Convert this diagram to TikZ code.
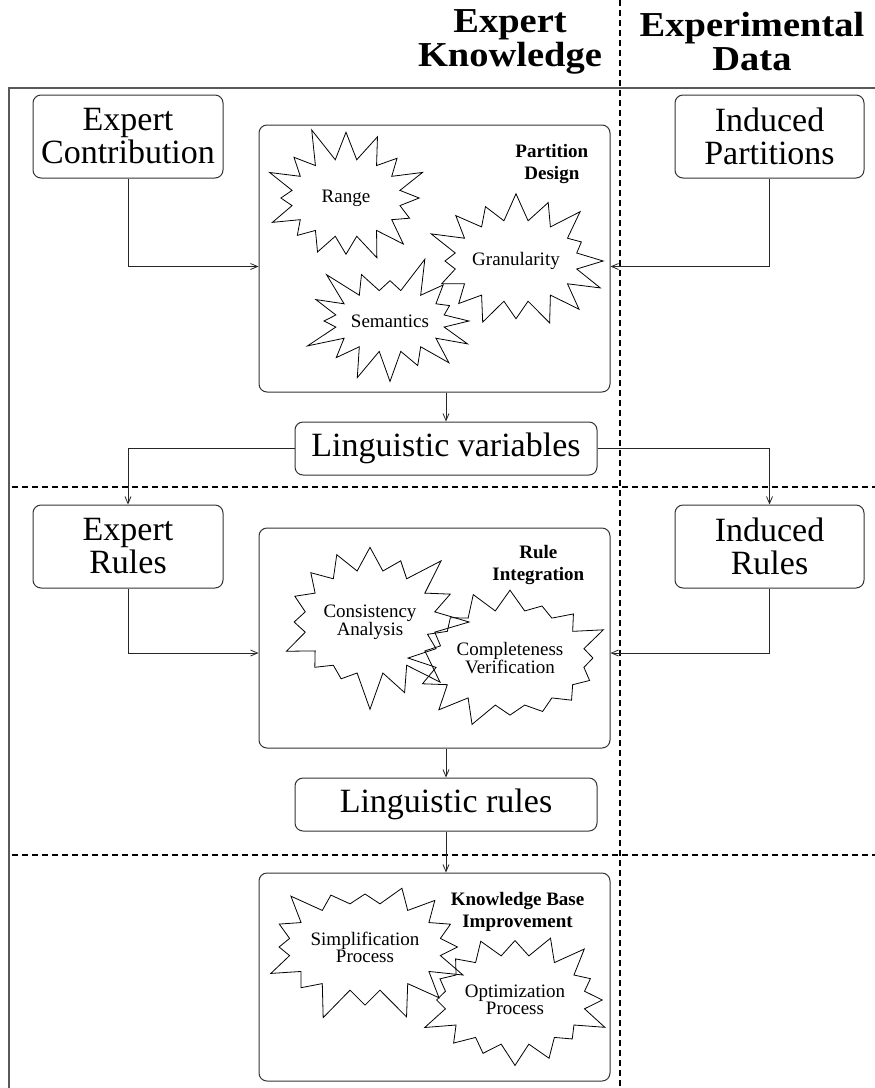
\documentclass[tikz,border=0pt]{standalone}
\usepackage{fontspec}
\setmainfont{Liberation Serif}
\usetikzlibrary{arrows.meta,positioning,shapes.symbols}
\tikzset{
  box/.style={draw=black!80, line width=1pt, rounded corners=8pt, align=center, inner sep=0pt, font=\fontsize{34}{33}\selectfont},
  stage/.style={draw=black!80, line width=1pt, rounded corners=8pt, inner sep=0pt},
  stagetitle/.style={align=center, inner sep=0pt, font=\fontsize{19}{22}\selectfont\bfseries},
  burst/.style={starburst, draw, line width=0.8pt, align=center, inner sep=0pt, starburst points=16, starburst point height=36pt, font=\fontsize{19}{17}\selectfont},
  heading/.style={align=center, inner sep=0pt, xscale=1.1, transform shape, font=\fontsize{35}{34}\selectfont\bfseries},
  arrow/.style={-{Straight Barb[length=7pt,width=6pt]}, line width=0.8pt, draw=black!85},
  frame/.style={line width=1.5pt, draw=black!65},
  divider/.style={line width=2pt, dash pattern=on 6pt off 4pt}
}
\begin{document}
\begin{tikzpicture}[x=1pt, y=-1pt]
  \useasboundingbox (0,0) rectangle (875,1088);

  % column headings
  \node[heading] (hexpert) at (510,42) {Expert\\Knowledge};
  \node[heading] (hdata) at (752,42) {Experimental\\Data};

  % frame and separators
  \draw[frame] (9,1088) -- (9,88) -- (875,88);
  \draw[divider] (620,0) -- (620,1088);
  \draw[divider] (12,487) -- (875,487);
  \draw[divider] (12,855) -- (875,855);

  % partitions
  \node[box, minimum width=190pt, minimum height=83pt] (contrib) at (128,136.5) {Expert\\Contribution};
  \node[box, minimum width=189pt, minimum height=83pt] (indpart) at (769.5,136.5) {Induced\\Partitions};
  \node[stage, minimum width=351pt, minimum height=267pt] (design) at (434.5,258.5) {};
  \node[stagetitle, below left=20pt and 22pt of design.north east] (designtitle) {Partition\\Design};
  \node[burst, minimum width=182pt, minimum height=150pt, random starburst=11] (range) at (346,198) {Range};
  \node[burst, minimum width=176pt, minimum height=134pt, random starburst=23] (semantics) at (390,321) {Semantics};
  \node[burst, minimum width=170pt, minimum height=146pt, starburst point height=32pt, random starburst=37] (granul) at (516,261) {Granularity};
  \node[box, minimum width=302pt, minimum height=53pt] (lingvar) at (446,448.5) {Linguistic variables};

  % rules
  \node[box, minimum width=190pt, minimum height=83pt] (exprules) at (128,546.5) {Expert\\Rules};
  \node[box, minimum width=189pt, minimum height=83pt] (indrules) at (769.5,546.5) {Induced\\Rules};
  \node[stage, minimum width=351pt, minimum height=220pt] (integ) at (434.5,638) {};
  \node[stagetitle, below left=18pt and 26pt of integ.north east] (integtitle) {Rule\\Integration};
  \node[burst, minimum width=204pt, minimum height=176pt, random starburst=51] (consist) at (370,622) {Consistency\\Analysis};
  \node[burst, minimum width=162pt, minimum height=150pt, starburst point height=27pt, random starburst=67] (complete) at (510,658) {Completeness\\Verification};
  \node[box, minimum width=302pt, minimum height=53pt] (lingrules) at (446,804.5) {Linguistic rules};

  % knowledge base
  \node[stage, minimum width=351pt, minimum height=208pt] (kbase) at (434.5,977) {};
  \node[stagetitle, below left=20pt and 26pt of kbase.north east] (kbtitle) {Knowledge Base\\Improvement};
  \node[burst, minimum width=215pt, minimum height=160pt, random starburst=79] (simplif) at (365,947) {Simplification\\Process};
  \node[burst, minimum width=156pt, minimum height=146pt, starburst point height=28pt, random starburst=91] (optim) at (515,1000) {Optimization\\Process};

  \draw[arrow] (contrib.south) |- ([yshift=-8pt]design.west);
  \draw[arrow] (indpart.south) |- ([yshift=-8pt]design.east);
  \draw[arrow] (design.south -| lingvar.north) -- (lingvar.north);
  \draw[arrow] (lingvar.west) -| (exprules.north);
  \draw[arrow] (lingvar.east) -| (indrules.north);
  \draw[arrow] (exprules.south) |- ([yshift=-15pt]integ.west);
  \draw[arrow] (indrules.south) |- ([yshift=-15pt]integ.east);
  \draw[arrow] (integ.south -| lingrules.north) -- (lingrules.north);
  \draw[arrow] (lingrules.south) -- (lingrules.south |- kbase.north);
\end{tikzpicture}
\end{document}
